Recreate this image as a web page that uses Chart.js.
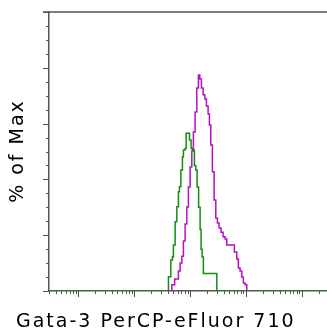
<!DOCTYPE html>
<html>
<head>
<meta charset="utf-8">
<script src="https://cdn.jsdelivr.net/npm/chart.js@4/dist/chart.umd.min.js"></script>
<style>
  html, body { margin: 0; padding: 0; background: #fff; }
  #wrap { width: 327px; height: 330px; }
</style>
</head>
<body>
<div id="wrap"><canvas id="histChart"></canvas></div>
<script>
// Histograma Gata-3 PerCP-eFluor 710 (% of Max)
// bordes izquierdos de cada escalón (intensidad) y su altura en %
var greenEdges = [410, 452, 483, 503, 540, 579, 618, 644, 682, 729, 759, 814, 849, 975, 1040, 1110, 1193, 1264, 1334, 1419, 1509, 1572, 1638, 1728, 2999];
var greenPct   = [5.1, 11.1, 12.3, 16.5, 24.8, 30.2, 35.6, 37.4, 43.4, 48.1, 50.5, 51.1, 56.5, 54.1, 51.1, 50.5, 45.0, 43.4, 37.3, 30.0, 22.0, 15.0, 12.2, 6.3, 0];

var magentaEdges = [471, 529, 618, 663, 711, 759, 814, 873, 932, 1000, 1072, 1145, 1228, 1317, 1407, 1490, 1592, 1707, 1830, 1955,
                    2097, 2211, 2342, 2502, 2683, 2877, 3073, 3296, 3578, 3884, 4217, 4522, 6182, 6823, 7286, 7816, 8381, 8950, 9597, 10290];
var magentaPct   = [2.2, 4.3, 7.2, 10.0, 12.5, 17.9, 24.0, 30.1, 37.3, 44.4, 50.2, 57.0, 64.2, 72.8, 77.4, 76.0, 72.8, 70.3, 68.8, 66.3,
                    63.4, 59.5, 52.3, 42.7, 32.6, 26.2, 24.4, 22.6, 21.1, 19.4, 18.6, 16.5, 14.0, 11.5, 8.2, 7.2, 5.0, 2.9, 2.2, 0];

var xMin = 3, xMax = 280000;
var xDecades = [1, 10, 100, 1000, 10000, 100000];
var yTicks = [0, 5, 10, 15, 20, 25, 30, 35, 40, 45, 50, 55, 60, 65, 70, 75, 80, 85, 90, 95, 100];
var xTitle = 'Gata-3 PerCP-eFluor 710';
var yTitle = '% of Max';

var axisColor = '#555555';

function toPoints(edges, pct) {
    var pts = [{x: xMin, y: 0}];
    edges.forEach(function(e, i) { pts.push({x: e, y: pct[i]}); });
    pts.push({x: xMax, y: 0});
    return pts;
}

// marcas de los ejes y títulos
var axisDecor = {
    id: 'axisDecor',
    afterDraw: function(chart) {
        var ctx = chart.ctx, xs = chart.scales.x, ys = chart.scales.y, a = chart.chartArea;
        ctx.save();
        ctx.strokeStyle = axisColor;
        ctx.lineWidth = 1;
        ctx.beginPath();
        yTicks.forEach(function(v) {
            var py = Math.round(ys.getPixelForValue(v)) + 0.5;
            var len = v % 20 === 0 ? 6 : 3;
            ctx.moveTo(a.left - len, py);
            ctx.lineTo(a.left, py);
        });
        xDecades.forEach(function(d) {
            for (var k = 1; k <= 9; k++) {
                var v = k * d;
                if (v < xMin || v > xMax) continue;
                var px = Math.round(xs.getPixelForValue(v)) + 0.5;
                var len = k === 1 ? 6 : 3;
                ctx.moveTo(px, a.bottom);
                ctx.lineTo(px, a.bottom + len);
            }
        });
        ctx.stroke();

        // línea superior del marco
        ctx.lineWidth = 1.5;
        ctx.beginPath();
        ctx.moveTo(a.left - 6, a.top);
        ctx.lineTo(a.right, a.top);
        ctx.stroke();

        ctx.fillStyle = '#000';
        ctx.font = '19px "DejaVu Sans"';
        ctx.letterSpacing = '2px';
        ctx.textBaseline = 'alphabetic';
        ctx.textAlign = 'left';
        ctx.fillText(xTitle, 16, 327);

        ctx.translate(23, 151);
        ctx.rotate(-Math.PI / 2);
        ctx.textAlign = 'center';
        ctx.fillText(yTitle, 0, 0);
        ctx.restore();
    }
};

var ctxHist = document.getElementById('histChart').getContext('2d');
new Chart(ctxHist, {
    type: 'line',
    data: {
        datasets: [{
            label: 'Gata-3',
            data: toPoints(greenEdges, greenPct),
            borderColor: '#138c13',
            borderWidth: 1.5,
            stepped: 'before',
            pointRadius: 0,
            fill: false
        }, {
            label: 'Isotype',
            data: toPoints(magentaEdges, magentaPct),
            borderColor: '#b610c0',
            borderWidth: 1.5,
            stepped: 'before',
            pointRadius: 0,
            fill: false
        }]
    },
    options: {
        responsive: true,
        maintainAspectRatio: false,
        animation: false,
        events: [],
        layout: { padding: { left: 49, right: 0, top: 12, bottom: 39 } },
        plugins: {
            legend: { display: false },
            tooltip: { enabled: false }
        },
        scales: {
            x: {
                type: 'logarithmic',
                min: xMin,
                max: xMax,
                grid: { display: false, drawTicks: false, tickLength: 0 },
                ticks: { display: false },
                border: { display: true, color: axisColor, width: 1.5 }
            },
            y: {
                type: 'linear',
                min: 0,
                max: 100,
                grid: { display: false, drawTicks: false, tickLength: 0 },
                ticks: { display: false },
                border: { display: true, color: axisColor, width: 1.5 }
            }
        }
    },
    plugins: [axisDecor]
});
</script>
</body>
</html>
